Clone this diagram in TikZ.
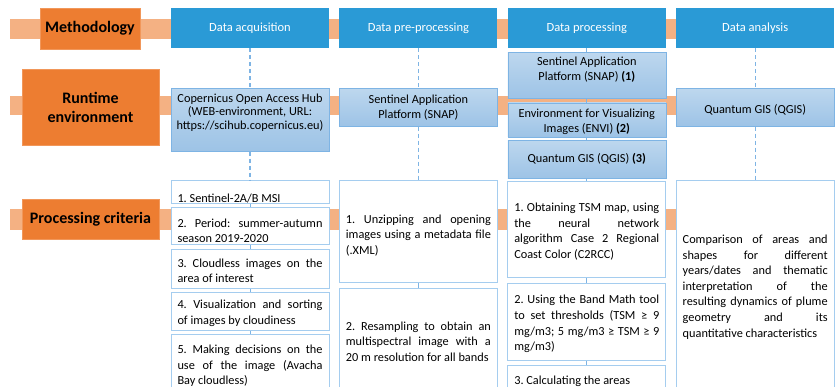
\documentclass[tikz,border=0pt]{standalone}
\usepackage{fontspec}
\setmainfont{Carlito}
\usetikzlibrary{positioning}
\setlength{\parindent}{0pt}
\frenchspacing
\hyphenpenalty=10000
\hbadness=10000
\definecolor{orng}{HTML}{ED7D31}
\definecolor{band}{HTML}{F4B183}
\definecolor{hdrblue}{HTML}{2A9AD6}
\definecolor{ltop}{HTML}{BDD7EE}
\definecolor{lbot}{HTML}{9DC3E6}
\definecolor{lline}{HTML}{7EB4E4}
\definecolor{wline}{HTML}{A5CDEF}
\newcommand{\padlow}[1]{\rule[-#1]{0pt}{#1}}
\newcommand{\padtop}[1]{\rule{0pt}{#1}}
\tikzset{
  lab/.style={rectangle, fill=orng, draw=orng!80!white, align=center, inner sep=0pt,
    font=\fontsize{16}{19}\selectfont\bfseries},
  hdr/.style={rectangle, fill=hdrblue, text=white, minimum width=158pt, minimum height=40pt,
    inner sep=0pt, font=\fontsize{12.5}{15}\selectfont},
  env/.style={rectangle, top color=ltop, bottom color=lbot, draw=lline, minimum width=158pt,
    align=center, inner sep=0pt, font=\fontsize{12.3}{15}\selectfont},
  crit/.style={rectangle, draw=wline, line width=1pt, fill=white, text width=145pt,
    align=justify, inner xsep=6.5pt, inner ysep=0pt, font=\fontsize{12.3}{15.6}\selectfont,
    execute at begin node={\padtop{12pt}}},
  vlink/.style={draw=lline, line width=1.2pt, dash pattern=on 4pt off 3pt},
  tick/.style={draw=lline, line width=1pt}
}

\begin{document}
\begin{tikzpicture}[x=1pt, y=-1pt]
\useasboundingbox (0,0) rectangle (837,387);
\clip (0,0) rectangle (837,387);
\fill[band] (10,19) rectangle (814,39);
\fill[band] (10,96) rectangle (814,115);
\fill[band] (10,209) rectangle (814,230);

\node[lab, minimum width=100pt, minimum height=41pt] (meth) at (90,28.5) {Methodology};
\node[lab, minimum width=137pt, minimum height=76pt] (rte) at (90.5,107) {Runtime\\environment};
\node[lab, minimum width=137pt, minimum height=40pt] (crit) at (90.5,219) {Processing criteria};

\node[hdr] (acq) at (250,28) {Data acquisition};
\node[hdr, right=10pt of acq] (pre) {Data pre-processing};
\node[hdr, right=10pt of pre] (proc) {Data processing};
\node[hdr, right=10pt of proc] (ana) {Data analysis};

\node[env, minimum height=63pt, below=40pt of acq, font=\fontsize{12.3}{13.4}\selectfont] (cop) {\padtop{12pt}Copernicus Open Access Hub\\(WEB-environment, URL:\\https://scihub.copernicus.eu)\padlow{20pt}};
\node[env, minimum height=38pt, below=40pt of pre] (snap) {Sentinel Application\\Platform (SNAP)};
\node[env, minimum height=46pt, below=4pt of proc, font=\fontsize{12.3}{14.4}\selectfont] (snapone) {Sentinel Application\\Platform (SNAP) \textbf{(1)}\padlow{13pt}};
\node[env, minimum height=34pt, below=4pt of snapone] (envi) {\padtop{13pt}Environment for Visualizing\\Images (ENVI) \textbf{(2)}};
\node[env, minimum height=38pt, below=3pt of envi] (qgisthree) {Quantum GIS (QGIS) \textbf{(3)}};
\node[env, minimum height=38pt, below=40pt of ana] (qgis) {\padtop{13pt}Quantum GIS (QGIS)};

\node[crit, minimum height=23pt, inner ysep=-2pt, below=132pt of acq] (a1) {\padtop{22pt}1. Sentinel-2A/B MSI};
\node[crit, minimum height=37pt, below=3pt of a1] (a2) {\padtop{18pt}2. Period: summer-autumn\linebreak season 2019-2020};
\node[crit, minimum height=39pt, below=4pt of a2] (a3) {3. Cloudless images on the\linebreak area of interest};
\node[crit, minimum height=38pt, below=3pt of a3] (a4) {4. Visualization and sorting\linebreak of images by cloudiness};
\node[crit, minimum height=59pt, below=3pt of a4] (a5) {5. Making decisions on the\linebreak use of the image (Avacha\linebreak Bay cloudless)};

\node[crit, minimum height=102pt, below=132pt of pre] (b1) {\padtop{16pt}1. Unzipping and opening\linebreak images using a metadata file\linebreak (.XML)};
\node[crit, minimum height=102pt, below=5pt of b1] (b2) {2. Resampling to obtain an\linebreak multispectral image with a\linebreak 20 m resolution for all bands};

\node[crit, minimum height=96pt, below=3pt of qgisthree] (c1) {1. Obtaining TSM map, using\linebreak the neural network\linebreak algorithm Case 2 Regional\linebreak Coast Color (C2RCC)};
\node[crit, minimum height=77pt, below=5pt of c1] (c2) {2. Using the Band Math tool\linebreak to set thresholds (TSM ≥ 9\linebreak mg/m3; 5 mg/m3 ≥ TSM ≥ 9\linebreak mg/m3)};
\node[crit, minimum height=28pt, below=4pt of c2] (c3) {3. Calculating the areas};

\node[crit, minimum height=209pt, below=132pt of ana] (d1) {Comparison of areas and\linebreak shapes for different\linebreak years/dates and thematic\linebreak interpretation of the\linebreak resulting dynamics of plume\linebreak geometry and its\linebreak quantitative characteristics};

\draw[vlink] (acq) -- (cop);
\draw[vlink] (cop) -- (a1);
\draw[vlink] (pre) -- (snap);
\draw[vlink] (snap) -- (b1);
\draw[vlink] (ana) -- (qgis);
\draw[vlink] (qgis) -- (d1);
\draw[tick] (proc) -- (snapone);
\draw[tick] (snapone) -- (envi);
\draw[tick] (envi) -- (qgisthree);
\draw[tick] (qgisthree) -- (c1);
\draw[tick] (c1) -- (c2);
\draw[tick] (c2) -- (c3);
\draw[tick] (a1) -- (a2);
\draw[tick] (a2) -- (a3);
\draw[tick] (a3) -- (a4);
\draw[tick] (a4) -- (a5);
\draw[tick] (b1) -- (b2);
\end{tikzpicture}
\end{document}
